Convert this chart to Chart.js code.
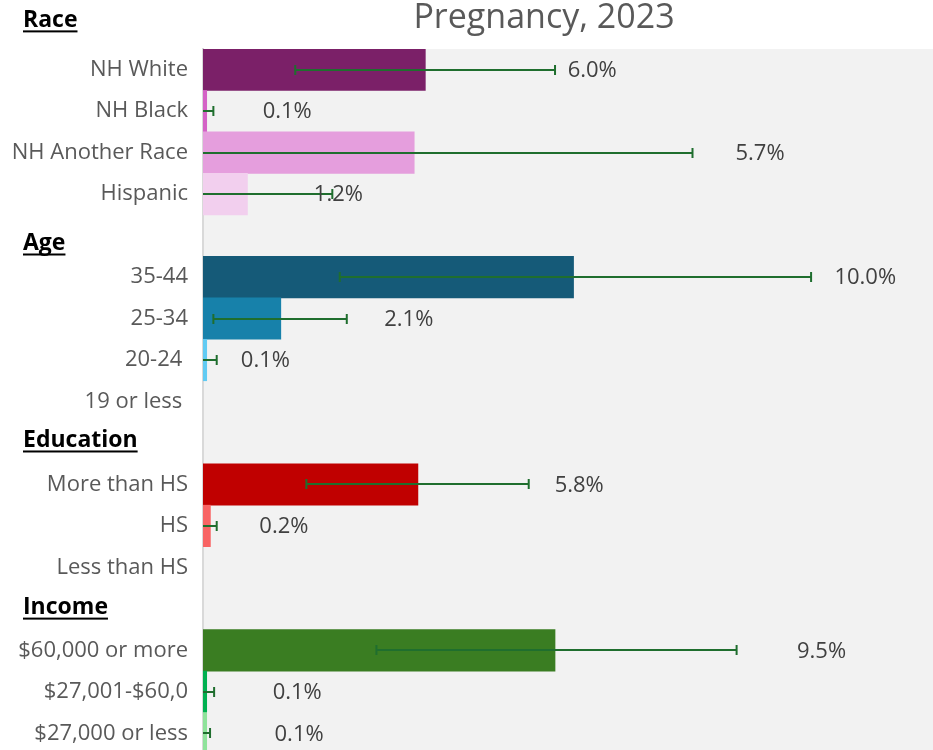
<!DOCTYPE html>
<html><head><meta charset="utf-8">
<script src="https://cdn.jsdelivr.net/npm/chart.js@4.4.1/dist/chart.umd.min.js"></script>
<style>html,body{margin:0;padding:0;background:#fff;overflow:hidden;}</style>
</head><body>
<canvas id="c" width="933" height="754"></canvas>
<script>
// ---- data ----
const title = "Pregnancy, 2023";
const categories = ["NH White","NH Black","NH Another Race","Hispanic","","35-44","25-34","20-24 ","19 or less ","","More than HS","HS","Less than HS","","$60,000 or more","$27,001-$60,0","$27,000 or less"];
const values   = [6.0, 0.1, 5.7, 1.2, null, 10.0, 2.1, 0.1, null, null, 5.8, 0.2, null, null, 9.5, 0.1, 0.1];
const errLow   = [2.49, 0, 0, 0, null, 3.69, 0.28, 0, null, null, 2.79, 0, null, null, 4.68, 0, 0];
const errHigh  = [9.50, 0.28, 13.21, 3.49, null, 16.41, 3.88, 0.37, null, null, 8.79, 0.37, null, null, 14.40, 0.30, 0.19];
const labelAt  = [9.84, 1.61, 14.37, 2.99, null, 17.04, 4.89, 1.02, null, null, 9.49, 1.52, null, null, 16.03, 1.88, 1.93];
const groupHeaders = ["Race","Age","Education","Income"];
const headerRows   = [-1.19, 4.19, 8.94, 12.97];
const barColors = ["#7b2068","#d462c6","#e59edd","#f2cfee","#000","#155a78","#1781aa","#61cbf3","#9ed8f3","#000",
                   "#c00000","#f86464","#ffb3b3","#000","#3a7d22","#00b050","#8fe39b"];

const FONT = "'Open Sans', 'Noto Sans', sans-serif";

const decorPlugin = {
  id: 'decor',
  beforeDraw(chart) {
    const {ctx, chartArea: a} = chart;
    ctx.save();
    ctx.fillStyle = '#f2f2f2';
    ctx.fillRect(a.left, a.top, a.right - a.left, a.bottom - a.top);
    ctx.restore();
  },
  afterDatasetsDraw(chart) {
    const {ctx, chartArea: a} = chart;
    const xs = chart.scales.x, ys = chart.scales.y;
    ctx.save();
    ctx.beginPath();
    ctx.rect(a.left, a.top, a.right - a.left, a.bottom - a.top);
    ctx.clip();
    ctx.strokeStyle = '#1f6e2e';
    ctx.lineWidth = 2;
    for (let i = 0; i < values.length; i++) {
      if (errHigh[i] == null) continue;
      const y = Math.round(ys.getPixelForValue(i)) ;
      const x1 = xs.getPixelForValue(errLow[i]);
      const x2 = xs.getPixelForValue(errHigh[i]);
      ctx.beginPath();
      ctx.moveTo(x1, y); ctx.lineTo(x2, y);
      if (errLow[i] > 0) { ctx.moveTo(x1, y - 5); ctx.lineTo(x1, y + 5); }
      ctx.moveTo(x2, y - 5); ctx.lineTo(x2, y + 5);
      ctx.stroke();
    }
    ctx.restore();
    // value labels
    ctx.save();
    ctx.fillStyle = '#404040';
    ctx.font = "22px " + FONT;
    ctx.textAlign = 'left';
    ctx.textBaseline = 'middle';
    for (let i = 0; i < values.length; i++) {
      if (values[i] == null) continue;
      ctx.fillText(values[i].toFixed(1) + '%', xs.getPixelForValue(labelAt[i]), ys.getPixelForValue(i) + 1);
    }
    ctx.restore();
  },
  afterDraw(chart) {
    const {ctx, chartArea: a} = chart;
    const ys = chart.scales.y;
    ctx.save();
    // title
    ctx.fillStyle = '#595959';
    ctx.font = "34px " + FONT;
    ctx.textAlign = 'center';
    ctx.textBaseline = 'middle';
    ctx.fillText(title, 544, 18);
    // group headers
    ctx.fillStyle = '#000';
    ctx.font = "bold 23px " + FONT;
    ctx.textAlign = 'left';
    ctx.textBaseline = 'middle';
    groupHeaders.forEach((h, k) => {
      const y = ys.getPixelForValue(headerRows[k]);
      const x = 23;
      ctx.fillText(h, x, y);
      const w = ctx.measureText(h).width;
      ctx.fillRect(x, y + 10, w, 2);
    });
    ctx.restore();
  }
};

new Chart(document.getElementById('c'), {
  type: 'bar',
  data: {
    labels: categories,
    datasets: [{
      data: values,
      backgroundColor: barColors,
      borderWidth: 0,
      barPercentage: 1,
      categoryPercentage: 1
    }]
  },
  options: {
    indexAxis: 'y',
    responsive: false,
    animation: false,
    layout: { padding: { top: 49, left: 0, right: 0, bottom: 0 } },
    plugins: { legend: { display: false }, tooltip: { enabled: false }, title: { display: false } },
    scales: {
      x: { display: false, min: 0, max: 19.7 },
      y: {
        grid: { display: false, drawTicks: false },
        border: { display: true, color: '#d9d9d9', width: 2 },
        ticks: { color: '#595959', font: { family: FONT, size: 22 }, padding: 15, autoSkip: false },
        afterFit(s) { s.width = 203; s.paddingTop = 0; s.paddingBottom = 0; }
      }
    }
  },
  plugins: [decorPlugin]
});
</script>
</body></html>
